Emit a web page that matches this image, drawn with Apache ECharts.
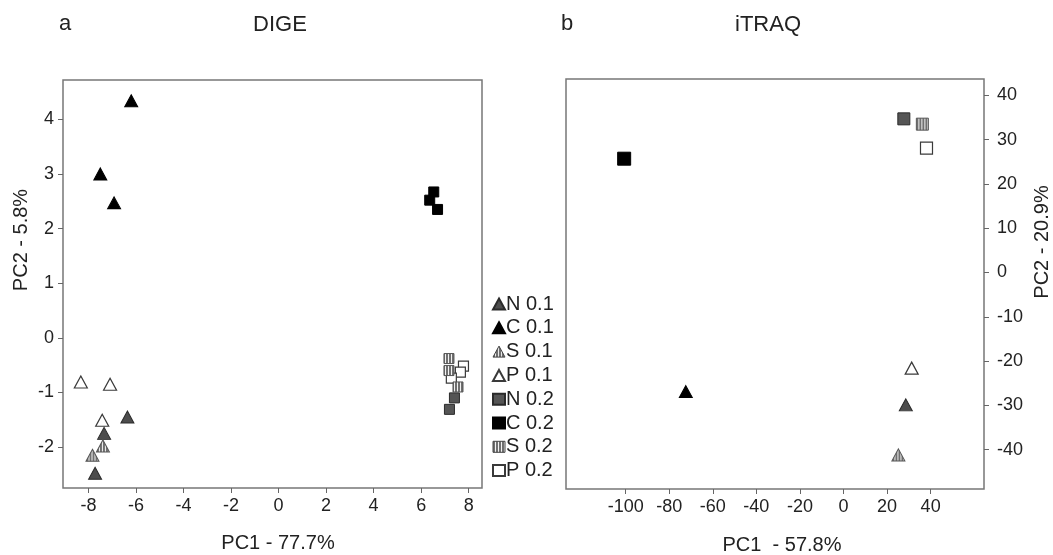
<!DOCTYPE html>
<html>
<head>
<meta charset="utf-8">
<script src="https://cdn.jsdelivr.net/npm/echarts@6/dist/echarts.min.js"></script>
<style>html,body{margin:0;padding:0;background:#fff}#c{width:1053px;height:555px}</style>
</head>
<body>
<div id="c"></div>
<script>
// ---------- DATA ----------
const groupNames = ['N 0.1', 'C 0.1', 'S 0.1', 'P 0.1', 'N 0.2', 'C 0.2', 'S 0.2', 'P 0.2'];

// DIGE (panel a): [PC1, PC2]
const digeN01 = [[-6.36, -1.45], [-7.34, -1.75], [-7.72, -2.48]];
const digeC01 = [[-6.2, 4.34], [-7.5, 3.0], [-6.92, 2.47]];
const digeS01 = [[-7.39, -1.98], [-7.83, -2.15]];
const digeP01 = [[-8.32, -0.81], [-7.09, -0.85], [-7.42, -1.51]];
const digeN02 = [[7.4, -1.1], [7.19, -1.31]];
const digeC02 = [[6.53, 2.67], [6.36, 2.52], [6.69, 2.35]];
const digeS02 = [[7.17, -0.38], [7.17, -0.6], [7.55, -0.9]];
const digeP02 = [[7.78, -0.52], [7.65, -0.63], [7.27, -0.74]];

// iTRAQ (panel b): [PC1, PC2]
const itraqN01 = [[28.6, -29.9]];
const itraqC01 = [[-72.4, -26.9]];
const itraqS01 = [[25.2, -41.2]];
const itraqP01 = [[31.3, -21.6]];
const itraqN02 = [[27.7, 34.7]];
const itraqC02 = [[-100.7, 25.7]];
const itraqS02 = [[36.2, 33.5]];
const itraqP02 = [[38.1, 28.1]];

// tick labels
const digeXTicks = [-8, -6, -4, -2, 0, 2, 4, 6, 8];
const digeYTicks = [-2, -1, 0, 1, 2, 3, 4];
const itraqXTicks = [-100, -80, -60, -40, -20, 0, 20, 40];
const itraqYTicks = [-40, -30, -20, -10, 0, 10, 20, 30, 40];

// ---------- STYLE ----------
const FONT = 'Liberation Sans, Arial, Helvetica, sans-serif';
function stripeCanvas() {
  const c = document.createElement('canvas');
  c.width = 3; c.height = 3;
  const g = c.getContext('2d');
  g.fillStyle = '#f2f2f2'; g.fillRect(0, 0, 3, 3);
  g.fillStyle = '#707070'; g.fillRect(0, 0, 2, 3);
  return c;
}
const stripeImg = stripeCanvas();
// series symbols are drawn in a unit box scaled by size/2, so the pattern is scaled back to screen pixels
function stripeFor(w, h) {
  return { image: stripeImg, repeat: 'repeat', scaleX: 2 / w, scaleY: 2 / h };
}
const legendStripe = { image: stripeImg, repeat: 'repeat' };

const baseStyles = {
  'N 0.1': { color: '#4d4d4d', borderColor: '#2a2a2a', borderWidth: 1 },
  'C 0.1': { color: '#000', borderColor: '#000', borderWidth: 1 },
  'S 0.1': { color: null, borderColor: '#555', borderWidth: 1 },
  'P 0.1': { color: '#fff', borderColor: '#3a3a3a', borderWidth: 1.2 },
  'N 0.2': { color: '#555', borderColor: '#2a2a2a', borderWidth: 1 },
  'C 0.2': { color: '#000', borderColor: '#000', borderWidth: 1 },
  'S 0.2': { color: null, borderColor: '#555', borderWidth: 1 },
  'P 0.2': { color: '#fff', borderColor: '#3a3a3a', borderWidth: 1.2 }
};
const zOrder = { 'N 0.1': 3, 'C 0.1': 3, 'S 0.1': 4, 'P 0.1': 2, 'N 0.2': 2, 'C 0.2': 3, 'S 0.2': 4, 'P 0.2': 3 };

const digeData = [digeN01, digeC01, digeS01, digeP01, digeN02, digeC02, digeS02, digeP02];
const itraqData = [itraqN01, itraqC01, itraqS01, itraqP01, itraqN02, itraqC02, itraqS02, itraqP02];

function mkSeries(name, data, panel) {
  const tri = name.endsWith('0.1');
  let size;
  if (tri) size = [13, 12];
  else { const s = panel === 0 ? 10 : (name === 'C 0.2' ? 13 : 12); size = [s, s]; }
  const st = Object.assign({ opacity: 1 }, baseStyles[name]);
  if (st.color === null) st.color = stripeFor(size[0], size[1]);
  return {
    type: 'scatter', name: name, xAxisIndex: panel, yAxisIndex: panel,
    data: data, symbol: tri ? 'triangle' : 'rect', symbolSize: size,
    itemStyle: st, z: zOrder[name], emphasis: { disabled: true }, silent: true
  };
}
const series = [];
groupNames.forEach((n, i) => series.push(mkSeries(n, digeData[i], 0)));
groupNames.forEach((n, i) => series.push(mkSeries(n, itraqData[i], 1)));

const tickStyle = { show: true, length: 5, lineStyle: { color: '#666', width: 1 } };
const labelStyle = { color: '#222', fontSize: 18, fontFamily: FONT };
const noLine = { show: false, onZero: false };

const option = {
  animation: false,
  backgroundColor: '#fff',
  grid: [
    { left: 63, top: 80, width: 419, height: 408, show: true, borderColor: '#777', borderWidth: 1.5, backgroundColor: 'transparent' },
    { left: 566, top: 79, width: 418, height: 410, show: true, borderColor: '#777', borderWidth: 1.5, backgroundColor: 'transparent' }
  ],
  xAxis: [
    { type: 'value', gridIndex: 0, min: -9.07, max: 8.56, splitLine: { show: false }, axisLine: noLine,
      axisTick: Object.assign({ customValues: digeXTicks }, tickStyle),
      axisLabel: Object.assign({ customValues: digeXTicks, margin: 9 }, labelStyle) },
    { type: 'value', gridIndex: 1, min: -127.4, max: 64.5, splitLine: { show: false }, axisLine: noLine,
      axisTick: Object.assign({ customValues: itraqXTicks }, tickStyle),
      axisLabel: Object.assign({ customValues: itraqXTicks, margin: 9 }, labelStyle) }
  ],
  yAxis: [
    { type: 'value', gridIndex: 0, min: -2.75, max: 4.72, splitLine: { show: false }, axisLine: noLine,
      axisTick: Object.assign({ customValues: digeYTicks }, tickStyle),
      axisLabel: Object.assign({ customValues: digeYTicks, margin: 9 }, labelStyle) },
    { type: 'value', gridIndex: 1, position: 'right', min: -48.9, max: 43.7, splitLine: { show: false }, axisLine: noLine,
      axisTick: Object.assign({ customValues: itraqYTicks }, tickStyle),
      axisLabel: Object.assign({ customValues: itraqYTicks, margin: 13 }, labelStyle) }
  ],
  legend: {
    orient: 'vertical', left: 492, top: 294, padding: 0, itemGap: 3.8,
    itemWidth: 12, itemHeight: 11, selectedMode: false,
    data: groupNames.map(n => {
      const d = { name: n, icon: n.endsWith('0.1') ? 'triangle' : 'rect' };
      if (n.startsWith('S')) d.itemStyle = { color: legendStripe, borderColor: '#444', borderWidth: 1 };
      return d;
    }),
    textStyle: { color: '#222', fontSize: 20, fontFamily: FONT, lineHeight: 20, padding: [0, 0, 0, -4] }
  },
  graphic: [
    { type: 'text', left: 59, top: 13, style: { text: 'a', font: '22px ' + FONT, fill: '#222' } },
    { type: 'text', x: 280, y: 25, style: { text: 'DIGE', font: '22px ' + FONT, fill: '#222', align: 'center', verticalAlign: 'middle' } },
    { type: 'text', left: 561, top: 13, style: { text: 'b', font: '22px ' + FONT, fill: '#222' } },
    { type: 'text', x: 768, y: 25, style: { text: 'iTRAQ', font: '22px ' + FONT, fill: '#222', align: 'center', verticalAlign: 'middle' } },
    { type: 'text', x: 278, y: 543, style: { text: 'PC1 - 77.7%', font: '20px ' + FONT, fill: '#222', align: 'center', verticalAlign: 'middle' } },
    { type: 'text', x: 782, y: 545, style: { text: 'PC1  - 57.8%', font: '20px ' + FONT, fill: '#222', align: 'center', verticalAlign: 'middle' } },
    { type: 'text', x: 21, y: 240, rotation: Math.PI / 2, style: { text: 'PC2 - 5.8%', font: '20px ' + FONT, fill: '#222', align: 'center', verticalAlign: 'middle' } },
    { type: 'text', x: 1042, y: 242, rotation: Math.PI / 2, style: { text: 'PC2 - 20.9%', font: '20px ' + FONT, fill: '#222', align: 'center', verticalAlign: 'middle' } }
  ],
  series: series
};
const chart = echarts.init(document.getElementById('c'), null, { renderer: 'canvas' });
chart.setOption(option);
</script>
</body>
</html>
